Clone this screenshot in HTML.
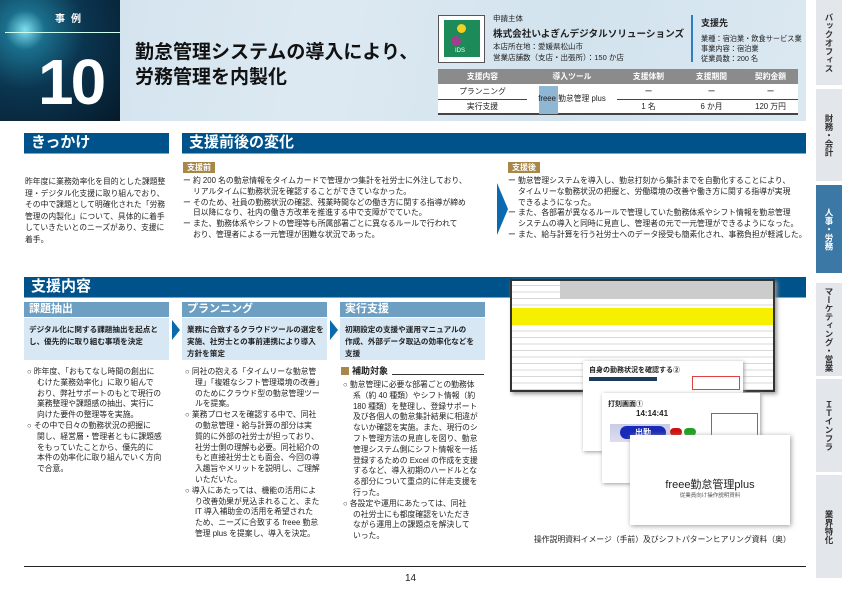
<!DOCTYPE html>
<html><head><meta charset="utf-8">
<style>
*{margin:0;padding:0;box-sizing:border-box}
body{width:842px;height:590px;position:relative;background:#fff;font-family:"Liberation Sans","Noto Sans CJK JP",sans-serif;color:#222;overflow:hidden}
.a{position:absolute}
.t{font-size:7.8px;line-height:10.8px;white-space:nowrap}
.b{font-weight:bold}
.hd{position:absolute;background:#00538a;color:#fff;font-weight:bold;font-size:15px;line-height:20px;padding-left:7px;border-bottom:1px solid #7aa6c6}
.sub{position:absolute;background:#6c9fc1;color:#fff;font-size:11px;line-height:15px;padding-left:5px;font-weight:bold}
.box{position:absolute;background:#d7e7f4;font-size:7.6px;line-height:12px;font-weight:bold;padding:6px 5px;white-space:nowrap;color:#222}
.tag{position:absolute;background:#a8884a;color:#fff;font-size:8px;font-weight:bold;line-height:11px;padding:0 4px}
.tab{position:absolute;left:816px;width:26px;background:#e3e7ec;writing-mode:vertical-rl;font-size:8.5px;font-weight:bold;color:#333;display:flex;align-items:center;justify-content:center;white-space:nowrap}
.arr{position:absolute;width:0;height:0;border-top:10px solid transparent;border-bottom:10px solid transparent;border-left:8px solid #0a6ab0}
td,th{font-size:7.8px;text-align:center;height:15px}
</style></head><body>

<div class="a" style="left:0;top:0;width:806px;height:121px;background:linear-gradient(100deg,#cfe1ed 0%,#dde9f2 40%,#d2e3ee 70%,#dbe8f1 100%)"></div>
<div class="a" style="left:0;top:0;width:120px;height:121px;background:radial-gradient(circle at 25px 30px,#7fe0f0 0,#1a6f8c 15%,#0b3550 45%,#061a2a 100%)"></div>
<div class="a b" style="left:55px;top:10px;color:#fff;font-size:10px;letter-spacing:6px">事例</div>
<div class="a" style="left:5px;top:32px;width:115px;height:1px;background:#cfe"></div>
<div class="a b" style="left:38px;top:42px;color:#fff;font-size:64px;line-height:80px;letter-spacing:-3px">10</div>
<div class="a b" style="left:135px;top:40px;font-size:19px;line-height:25px;color:#111;white-space:nowrap">勤怠管理システムの導入により、<br>労務管理を内製化</div>

<div class="a" style="left:438px;top:15px;width:47px;height:48px;background:#fff;border:1px solid #555"></div>
<div class="a" style="left:444px;top:20px;width:36px;height:37px;background:#1d8a5a"></div>
<div class="a" style="left:457px;top:24px;width:9px;height:9px;border-radius:50%;background:#f4d020"></div>
<div class="a" style="left:451px;top:36px;width:10px;height:10px;border-radius:50%;background:#a0408a"></div>
<div class="a" style="left:455px;top:48px;color:#fff;font-size:6px">IDS</div>
<div class="a t" style="left:493px;top:14px;font-size:7.5px">申請主体</div>
<div class="a b" style="left:493px;top:26px;font-size:9.6px;white-space:nowrap">株式会社いよぎんデジタルソリューションズ</div>
<div class="a t" style="left:493px;top:42px;font-size:7.5px;line-height:10.5px">本店所在地：愛媛県松山市<br>営業店舗数（支店・出張所）：150 か店</div>
<div class="a" style="left:691px;top:15px;width:2px;height:47px;background:#2f7fc0"></div>
<div class="a b" style="left:701px;top:16px;font-size:9px">支援先</div>
<div class="a t" style="left:701px;top:34px;font-size:7.2px;line-height:10px">業種：宿泊業・飲食サービス業<br>事業内容：宿泊業<br>従業員数：200 名</div>

<table class="a" style="left:438px;top:69px;width:360px;border-collapse:collapse;background:#fff;border-bottom:2px solid #444">
<tr style="background:#8b8b8b;color:#fff"><th style="width:89px;height:11px">支援内容</th><th style="width:90px">導入ツール</th><th style="width:63px">支援体制</th><th style="width:63px">支援期間</th><th>契約金額</th></tr>
<tr style="border-bottom:1px solid #444"><td>プランニング</td><td rowspan="2" style="position:relative"><span style="position:absolute;left:12px;top:2px;width:19px;height:28px;background:#8fb6d2"></span><span style="position:relative">freee 勤怠管理 plus</span></td><td>ー</td><td>ー</td><td>ー</td></tr>
<tr><td>実行支援</td><td>1 名</td><td>6 か月</td><td>120 万円</td></tr>
</table>

<div class="tab" style="top:0;height:85px">バックオフィス</div>
<div class="tab" style="top:89px;height:92px">財務・会計</div>
<div class="tab" style="top:185px;height:88px;background:#3b78a6;color:#fff">人事・労務</div>
<div class="tab" style="top:283px;height:93px">マーケティング・営業</div>
<div class="tab" style="top:379px;height:93px">ＩＴインフラ</div>
<div class="tab" style="top:475px;height:103px">業界特化</div>

<div class="hd" style="left:24px;top:133px;width:145px">きっかけ</div>
<div class="a t" style="left:25px;top:176px;line-height:11.6px;font-size:7.8px">昨年度に業務効率化を目的とした課題整<br>理・デジタル化支援に取り組んでおり、<br>その中で課題として明確化された「労務<br>管理の内製化」について、具体的に着手<br>していきたいとのニーズがあり、支援に<br>着手。</div>

<div class="hd" style="left:182px;top:133px;width:624px">支援前後の変化</div>
<div class="tag" style="left:183px;top:162px">支援前</div>
<div class="a t" style="left:183px;top:176px">ー 約 200 名の勤怠情報をタイムカードで管理かつ集計を社労士に外注しており、<br>　 リアルタイムに勤務状況を確認することができていなかった。<br>ー そのため、社員の勤務状況の確認、残業時間などの働き方に関する指導が締め<br>　 日以降になり、社内の働き方改革を推進する中で支障がでていた。<br>ー また、勤務体系やシフトの管理等も所属部署ごとに異なるルールで行われて<br>　 おり、管理者による一元管理が困難な状況であった。</div>
<div class="a" style="left:497px;top:183px;width:0;height:0;border-top:26px solid transparent;border-bottom:26px solid transparent;border-left:11px solid #0a6ab0"></div>
<div class="tag" style="left:508px;top:162px">支援後</div>
<div class="a t" style="left:508px;top:176px">ー 勤怠管理システムを導入し、勤怠打刻から集計までを自動化することにより、<br>　 タイムリーな勤務状況の把握と、労働環境の改善や働き方に関する指導が実現<br>　 できるようになった。<br>ー また、各部署が異なるルールで管理していた勤務体系やシフト情報を勤怠管理<br>　 システムの導入と同時に見直し、管理者の元で一元管理ができるようになった。<br>ー また、給与計算を行う社労士へのデータ授受も簡素化され、事務負担が軽減した。</div>

<div class="hd" style="left:24px;top:277px;width:782px">支援内容</div>
<div class="sub" style="left:24px;top:302px;width:145px">課題抽出</div>
<div class="box" style="left:24px;top:318px;width:145px;height:42px">デジタル化に関する課題抽出を起点と<br>し、優先的に取り組む事項を決定</div>
<div class="arr" style="left:172px;top:320px"></div>
<div class="sub" style="left:182px;top:302px;width:145px">プランニング</div>
<div class="box" style="left:182px;top:318px;width:145px;height:42px">業務に合致するクラウドツールの選定を<br>実施、社労士との事前連携により導入<br>方針を策定</div>
<div class="arr" style="left:330px;top:320px"></div>
<div class="sub" style="left:340px;top:302px;width:145px">実行支援</div>
<div class="box" style="left:340px;top:318px;width:145px;height:42px">初期設定の支援や運用マニュアルの<br>作成、外部データ取込の効率化などを<br>支援</div>

<div class="a t" style="left:27px;top:367px">○ 昨年度、「おもてなし時間の創出に<br>　 むけた業務効率化」に取り組んで<br>　 おり、弊社サポートのもとで現行の<br>　 業務整理や課題感の抽出、実行に<br>　 向けた要件の整理等を実施。<br>○ その中で日々の勤務状況の把握に<br>　 関し、経営層・管理者ともに課題感<br>　 をもっていたことから、優先的に<br>　 本件の効率化に取り組んでいく方向<br>　 で合意。</div>
<div class="a t" style="left:185px;top:367px">○ 同社の抱える「タイムリーな勤怠管<br>　 理」「複雑なシフト管理環境の改善」<br>　 のためにクラウド型の勤怠管理ツー<br>　 ルを提案。<br>○ 業務プロセスを確認する中で、同社<br>　 の勤怠管理・給与計算の部分は実<br>　 質的に外部の社労士が担っており、<br>　 社労士側の理解も必要。同社紹介の<br>　 もと直接社労士とも面会、今回の導<br>　 入趣旨やメリットを説明し、ご理解<br>　 いただいた。<br>○ 導入にあたっては、機能の活用によ<br>　 り改善効果が見込まれること、また<br>　 IT 導入補助金の活用を希望された<br>　 ため、ニーズに合致する freee 勤怠<br>　 管理 plus を提案し、導入を決定。</div>
<div class="a" style="left:341px;top:367px;width:8px;height:8px;background:#a8884a"></div>
<div class="a b" style="left:352px;top:364px;font-size:9px">補助対象</div>
<div class="a" style="left:392px;top:374px;width:92px;height:1px;background:#333"></div>
<div class="a t" style="left:343px;top:380px">○ 勤怠管理に必要な部署ごとの勤務体<br>　 系（約 40 種類）やシフト情報（約<br>　 180 種類）を整理し、登録サポート<br>　 及び各個人の勤怠集計結果に相違が<br>　 ないか確認を実施。また、現行のシ<br>　 フト管理方法の見直しを図り、勤怠<br>　 管理システム側にシフト情報を一括<br>　 登録するための Excel の作成を支援<br>　 するなど、導入初期のハードルとな<br>　 る部分について重点的に伴走支援を<br>　 行った。<br>○ 各設定や運用にあたっては、同社<br>　 の社労士にも都度確認をいただき<br>　 ながら運用上の課題点を解決して<br>　 いった。</div>

<div class="a" style="left:510px;top:279px;width:265px;height:113px;border:2px solid #333;background:#fff repeating-linear-gradient(0deg,#d8d8d8 0,#d8d8d8 1px,transparent 1px,transparent 6.5px);box-shadow:2px 2px 4px #999"></div>
<div class="a" style="left:560px;top:281px;width:213px;height:18px;background:#ccc"></div>
<div class="a" style="left:512px;top:308px;width:261px;height:17px;background:#f6f000"></div>
<div class="a" style="left:583px;top:361px;width:160px;height:90px;background:#fff;box-shadow:1px 1px 4px #999"></div>
<div class="a b" style="left:589px;top:365px;font-size:7px">自身の勤務状況を確認する②</div>
<div class="a" style="left:589px;top:377px;width:68px;height:4px;background:#1e3a5a"></div>
<div class="a" style="left:692px;top:376px;width:48px;height:14px;border:1px solid #e04040"></div>
<div class="a" style="left:602px;top:393px;width:158px;height:90px;background:#fff;box-shadow:1px 1px 4px #999"></div>
<div class="a b" style="left:608px;top:399px;font-size:7px">打刻画面①</div>
<div class="a" style="left:610px;top:424px;width:60px;height:18px;background:linear-gradient(#c8cce8,#dde)"></div>
<div class="a b" style="left:636px;top:409px;font-size:8px">14:14:41</div>
<div class="a" style="left:620px;top:426px;width:46px;height:13px;border-radius:7px;background:#1a2ab8;color:#fff;font-size:8px;text-align:center;line-height:13px;font-weight:bold">出勤</div>
<div class="a" style="left:670px;top:428px;width:12px;height:8px;border-radius:4px;background:#d01010"></div>
<div class="a" style="left:684px;top:428px;width:12px;height:8px;border-radius:4px;background:#20a020"></div>
<div class="a" style="left:711px;top:413px;width:47px;height:27px;border:1px solid #e04040;background:#fff"></div>
<div class="a" style="left:630px;top:435px;width:160px;height:90px;background:#fff;box-shadow:1px 1px 5px #999"></div>
<div class="a" style="left:630px;top:476px;width:160px;text-align:center;font-size:11px;white-space:nowrap">freee勤怠管理plus</div>
<div class="a" style="left:630px;top:491px;width:160px;text-align:center;font-size:5.5px;color:#555">従業員向け操作説明資料</div>
<div class="a t" style="left:534px;top:535px;font-size:7.8px">操作説明資料イメージ（手前）及びシフトパターンヒアリング資料（奥）</div>

<div class="a" style="left:24px;top:566px;width:782px;height:1px;background:#222"></div>
<div class="a" style="left:405px;top:573px;font-size:10px">14</div>
</body></html>
